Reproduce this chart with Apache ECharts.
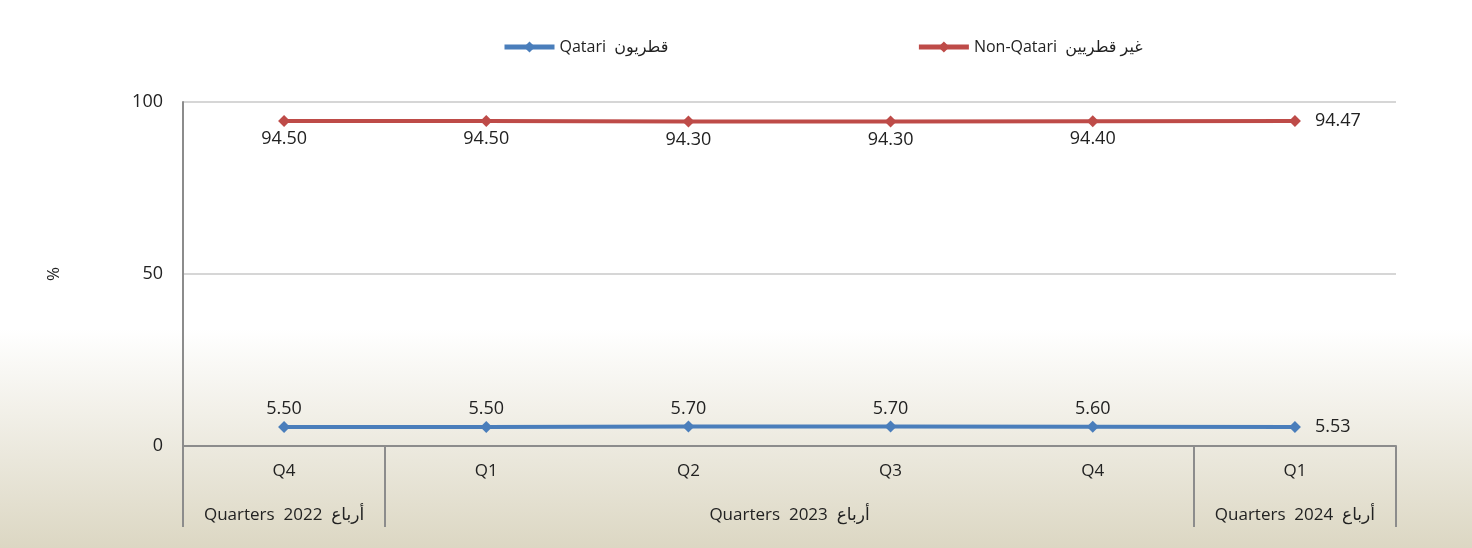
<!DOCTYPE html>
<html>
<head>
<meta charset="utf-8">
<script src="https://cdn.jsdelivr.net/npm/echarts@6/dist/echarts.min.js"></script>
<style>
  html, body { margin: 0; padding: 0; }
  #chart { width: 1472px; height: 548px; }
</style>
</head>
<body>
<div id="chart"></div>
<script>
// 季度标签
const quarters = ['Q4', 'Q1', 'Q2', 'Q3', 'Q4', 'Q1'];
// 年份分组: 标签位置 (按类别序号) 与分隔线位置
const groupNames = ['Quarters  2022  أرباع', 'Quarters  2023  أرباع', 'Quarters  2024  أرباع'];
const groupCenters = [0.5, 3, 5.5];
const groupBounds = [0, 1, 5, 6];
// 系列数据
const qatari = [5.50, 5.50, 5.70, 5.70, 5.60, 5.53];
const nonQatari = [94.50, 94.50, 94.30, 94.30, 94.40, 94.47];
const qatariName = 'Qatari  قطريون';
const nonQatariName = 'Non-Qatari  غير قطريين';

const FONT = '"Open Sans", "DejaVu Sans", sans-serif';

let chart = echarts.init(document.getElementById('chart'));

function labelsFor(data, pos) {
    // 最后一个点的标签放在右侧
    return data.map((v, i) => ({
        value: v,
        label: i === data.length - 1 ? {position: 'right', distance: 14} : {position: pos}
    }));
}

let option = {
    backgroundColor: {
        type: 'linear', x: 0, y: 0, x2: 0, y2: 1,
        colorStops: [
            {offset: 0, color: '#ffffff'},
            {offset: 0.6, color: '#ffffff'},
            {offset: 1, color: '#dcd7c3'}
        ]
    },
    textStyle: {fontFamily: FONT},
    legend: {
        top: 34,
        left: 497,
        itemGap: 248,
        itemWidth: 50,
        itemHeight: 14,
        lineStyle: {width: 5},
        textStyle: {fontSize: 16, color: '#222', fontFamily: FONT},
        data: [qatariName, nonQatariName]
    },
    grid: {left: 183, right: 76, top: 102, bottom: 102},
    xAxis: [
        {
            type: 'category',
            data: quarters,
            boundaryGap: true,
            axisLine: {show: true, lineStyle: {color: '#8c8c8c', width: 2}},
            axisTick: {show: false},
            axisLabel: {margin: 17, fontSize: 17, color: '#222'}
        },
        {
            type: 'value',
            min: 0,
            max: 6,
            position: 'bottom',
            axisLine: {show: false},
            splitLine: {show: false},
            axisTick: {
                show: true,
                customValues: groupBounds,
                length: 81,
                lineStyle: {color: '#8c8c8c', width: 2}
            },
            axisLabel: {
                customValues: groupCenters,
                margin: 61,
                fontSize: 17,
                color: '#222',
                formatter: (v) => groupNames[groupCenters.indexOf(v)]
            }
        }
    ],
    yAxis: {
        type: 'value',
        min: 0,
        max: 100,
        interval: 50,
        name: '%',
        nameLocation: 'middle',
        nameRotate: 90,
        nameGap: 120,
        nameTextStyle: {fontSize: 17, color: '#222'},
        axisLine: {show: true, lineStyle: {color: '#8c8c8c', width: 2}},
        axisTick: {show: false},
        axisLabel: {margin: 20, fontSize: 18, color: '#222'},
        splitLine: {lineStyle: {color: '#c8c8c8', width: 1.5}}
    },
    series: [
        {
            name: qatariName,
            type: 'line',
            data: labelsFor(qatari, 'top'),
            symbol: 'diamond',
            symbolSize: 12,
            color: '#4a7ebb',
            lineStyle: {width: 4, color: '#4a7ebb'},
            label: {
                show: true,
                fontSize: 18,
                color: '#222',
                distance: 3,
                formatter: (p) => p.value.toFixed(2)
            }
        },
        {
            name: nonQatariName,
            type: 'line',
            data: labelsFor(nonQatari, 'bottom'),
            symbol: 'diamond',
            symbolSize: 12,
            color: '#be4b48',
            lineStyle: {width: 4, color: '#be4b48'},
            label: {
                show: true,
                fontSize: 18,
                color: '#222',
                distance: 3,
                formatter: (p) => p.value.toFixed(2)
            }
        }
    ]
};

chart.setOption(option);
</script>
</body>
</html>
